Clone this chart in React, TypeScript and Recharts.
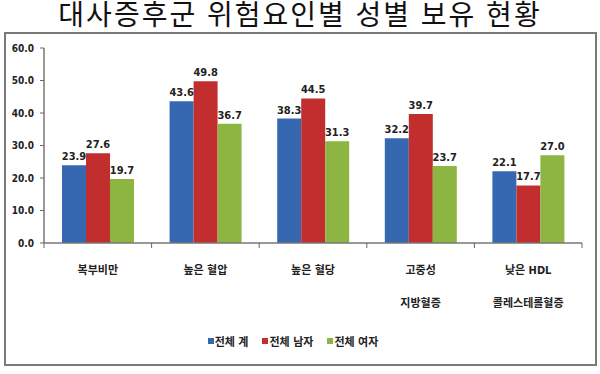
import React from "react";
import { BarChart, Bar, XAxis, YAxis, LabelList } from "recharts";

const categories = ["복부비만", "높은 혈압", "높은 혈당", "고중성\n지방혈증", "낮은 HDL\n콜레스테롤혈증"];
const totalValues = [23.9, 43.6, 38.3, 32.2, 22.1];
const maleValues = [27.6, 49.8, 44.5, 39.7, 17.7];
const femaleValues = [19.7, 36.7, 31.3, 23.7, 27.0];
const yTicks = [0, 10, 20, 30, 40, 50, 60];
const seriesNames = ["전체 계", "전체 남자", "전체 여자"];
const seriesColors = ["#3668B2", "#C22E2E", "#8DB541"];
const title = "대사증후군 위험요인별 성별 보유 현황";

const data = categories.map((c, i) => ({
  name: c,
  total: totalValues[i],
  male: maleValues[i],
  female: femaleValues[i],
}));

const W = 600;
const H = 374;
const M = { top: 48, right: 18, bottom: 61, left: 0 };
const Y_W = 44;
const X_H = 70;
const plotW = W - M.left - M.right - Y_W;
const bandW = plotW / categories.length;

const FONT = "'Liberation Sans Narrow', 'DejaVu Sans Condensed', 'Noto Sans CJK KR', sans-serif";

const XTick = (props: any) => {
  const { x, y, payload, index } = props;
  const lines = String(payload.value).split("\n");
  return (
    <g>
      {index === 0 && (
        <line x1={x - bandW / 2} x2={x - bandW / 2} y1={y} y2={y + 5} stroke="#666" strokeWidth={1} />
      )}
      <line x1={x + bandW / 2} x2={x + bandW / 2} y1={y} y2={y + 5} stroke="#666" strokeWidth={1} />
      {lines.map((l, i) => (
        <text
          key={i}
          x={x}
          y={y + 31 + i * 33}
          textAnchor="middle"
          fontSize={11}
          fontWeight="bold"
          fill="#222"
          fontFamily={FONT}
        >
          {l}
        </text>
      ))}
    </g>
  );
};

const keys = ["total", "male", "female"];

export default function App() {
  return (
    <div style={{ position: "absolute", left: 0, top: 0, width: W, height: H, background: "#fff" }}>
      <div
        style={{
          position: "absolute",
          left: 0,
          top: 0,
          width: W,
          height: 32,
          lineHeight: "31px",
          textAlign: "center",
          fontFamily: "'Liberation Sans', 'Noto Sans CJK KR', sans-serif",
          fontSize: 28,
          letterSpacing: 2,
          color: "#111",
          whiteSpace: "nowrap",
        }}
      >
        {title}
      </div>
      <div
        style={{
          position: "absolute",
          left: 4,
          top: 32,
          width: 589,
          height: 330,
          border: "2px solid #7a7a7a",
          boxSizing: "content-box",
        }}
      />
      <div style={{ position: "absolute", left: 0, top: 0 }}>
        <BarChart width={W} height={H} data={data} margin={M} barGap={0} barSize={24}>
          <XAxis
            dataKey="name"
            height={X_H}
            interval={0}
            tick={<XTick />}
            tickLine={false}
            tickSize={0}
            tickMargin={0}
            axisLine={{ stroke: "#777", strokeWidth: 1.5 }}
          />
          <YAxis
            width={Y_W}
            domain={[0, 60]}
            ticks={yTicks}
            tickFormatter={(v: number) => v.toFixed(1)}
            tickSize={4}
            tickMargin={6}
            tickLine={{ stroke: "#666" }}
            axisLine={{ stroke: "#777", strokeWidth: 1.5 }}
            tick={{ fontSize: 10, fontWeight: "bold", fill: "#222", fontFamily: FONT }}
          />
          {keys.map((k, i) => (
            <Bar key={k} dataKey={k} name={seriesNames[i]} fill={seriesColors[i]} isAnimationActive={false}>
              <LabelList
                dataKey={k}
                position="top"
                offset={5}
                formatter={(v: any) => Number(v).toFixed(1)}
                style={{ fontSize: 11, fontWeight: "bold", fill: "#222", fontFamily: FONT }}
              />
            </Bar>
          ))}
        </BarChart>
      </div>
      <div
        style={{
          position: "absolute",
          left: 0,
          top: 333,
          width: W,
          display: "flex",
          justifyContent: "center",
          fontFamily: FONT,
          fontSize: 11,
          fontWeight: "bold",
          color: "#222",
        }}
      >
        {seriesNames.map((n, i) => (
          <div key={n} style={{ display: "flex", alignItems: "center", marginRight: 14 }}>
            <span style={{ width: 6, height: 6, background: seriesColors[i], display: "inline-block", marginRight: 1 }} />
            <span>{n}</span>
          </div>
        ))}
      </div>
    </div>
  );
}
